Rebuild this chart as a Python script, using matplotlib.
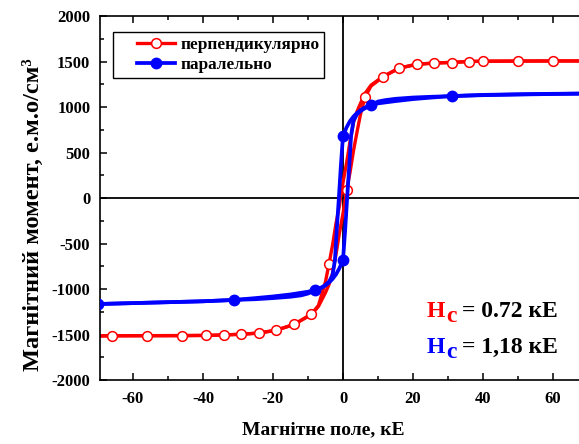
import matplotlib
matplotlib.use('Agg')
import matplotlib.pyplot as plt
from matplotlib.ticker import MultipleLocator
from matplotlib.legend_handler import HandlerLine2D

plt.rcParams['font.family'] = ['Liberation Serif', 'DejaVu Serif']
plt.rcParams['font.weight'] = 'bold'
plt.rcParams['axes.unicode_minus'] = False

# перпендикулярно: висхідна та низхідна гілки петлі
perp_up_h = [-70, -66, -56, -46, -39, -34, -29, -24, -19, -14, -9, -7, -5, -4, -3, -2, -1, 0, 0.72, 1, 2, 3,
             4, 5, 6.3, 8, 11.4, 16, 21, 26, 31, 36, 40, 50, 60, 70]
perp_up_m = [-1516, -1514, -1513, -1512, -1510, -1505, -1497, -1484, -1452, -1390, -1280, -1190, -1040, -950,
             -830, -620, -380, -170, 0, 80, 280, 520, 725, 920, 1110, 1230, 1330, 1428, 1470, 1483, 1490, 1500,
             1503, 1505, 1506, 1506]
perp_dn_h = [70, 60, 50, 40, 36, 31, 26, 21, 16, 11.4, 8, 6.3, 5, 4, 3, 2, 1, 0, -0.72, -1, -2, -3, -4, -5,
             -7, -9, -14, -19, -24, -29, -34, -39, -46, -56, -66, -70]
perp_dn_m = [1506, 1506, 1505, 1503, 1500, 1490, 1483, 1468, 1425, 1335, 1240, 1150, 1040, 950, 830, 620,
             380, 170, 0, -80, -280, -520, -725, -920, -1180, -1275, -1390, -1452, -1484, -1497, -1505, -1510,
             -1512, -1513, -1514, -1516]
perp_pt_h = [-66, -56, -46, -39, -34, -29, -24, -19, -14, -9, -4, 1, 6.3, 11.4, 16, 21, 26, 31, 36, 40, 50, 60]
perp_pt_m = [-1514, -1513, -1512, -1510, -1505, -1497, -1484, -1452, -1390, -1275, -725, 90, 1110, 1330,
             1428, 1470, 1483, 1488, 1500, 1503, 1505, 1506]

# паралельно
par_dn_h = [70, 60, 50, 40, 31, 25, 20, 15, 12, 10, 8, 6, 5, 4, 3, 2, 1, 0, -0.6, -1.18, -1.8, -2.3, -3,
            -4, -5, -6, -8, -10, -15, -20, -25, -31, -40, -50, -60, -70]
par_dn_m = [1148, 1143, 1137, 1130, 1120, 1112, 1104, 1090, 1075, 1060, 1022, 990, 965, 935, 895, 845, 775,
            681, 360, 0, -360, -681, -850, -920, -955, -980, -1011, -1030, -1060, -1082, -1100, -1120, -1135,
            -1145, -1155, -1165]
par_up_h = [-70, -60, -50, -40, -31, -25, -20, -15, -12, -10, -8, -6, -5, -4, -3, -2, -1, 0, 0.6, 1.18,
            1.8, 2.3, 3, 4, 5, 6, 8, 10, 15, 20, 25, 31, 40, 50, 60, 70]
par_up_m = [-1165, -1155, -1145, -1135, -1120, -1112, -1100, -1085, -1070, -1050, -1015, -985, -960, -930,
            -890, -840, -770, -681, -360, 0, 360, 681, 850, 920, 955, 980, 1022, 1040, 1065, 1087, 1103, 1120,
            1133, 1140, 1145, 1148]
par_pt_h = [-70, -31, -8, 0, 0, 8, 31, 70]
par_pt_m = [-1165, -1120, -1011, 681, -681, 1022, 1120, 1148]

fig = plt.figure(figsize=(5.79, 4.44), dpi=100)
ax = fig.add_axes([100 / 579, 1 - 380 / 444, 1 - 100 / 579, 364 / 444])

ax.axhline(0, color='black', lw=1.3, zorder=1)
ax.axvline(0, color='black', lw=1.3, zorder=1)

red = '#ff0000'
blue = '#0000ff'
ax.plot(perp_up_h, perp_up_m, color=red, lw=2.4, zorder=2)
ax.plot(perp_dn_h, perp_dn_m, color=red, lw=2.4, zorder=2)
ax.plot(perp_pt_h, perp_pt_m, 'o', color=red, mfc='white', mec=red, ms=7, mew=1.1, zorder=3)
ax.plot(par_up_h, par_up_m, color=blue, lw=2.7, zorder=4)
ax.plot(par_dn_h, par_dn_m, color=blue, lw=2.7, zorder=4)
ax.plot(par_pt_h, par_pt_m, 'o', color=blue, ms=7.5, zorder=5)

# легенда
h1, = ax.plot([], [], '-o', color=red, mfc='white', mec=red, ms=7, lw=2.4, mew=1.1)
h2, = ax.plot([], [], '-o', color=blue, ms=7.5, lw=2.7)
leg = ax.legend([h1, h2], ['перпендикулярно', 'паралельно'], loc='upper left',
                bbox_to_anchor=(113 / 579, 1 - 32 / 444), bbox_transform=fig.transFigure,
                borderaxespad=0, fancybox=False, framealpha=1, edgecolor='black',
                prop={'size': 12.4, 'weight': 'bold'}, handlelength=3.3, borderpad=0.3,
                labelspacing=0.2, handletextpad=0.3,
                handler_map={h1: HandlerLine2D(xpad=1.1), h2: HandlerLine2D(xpad=1.1)})
leg.get_frame().set_linewidth(1.0)

ax.set_xlim(-69.4, 67.4)
ax.set_ylim(-2000, 2000)
ax.xaxis.set_major_locator(MultipleLocator(20))
ax.xaxis.set_minor_locator(MultipleLocator(10))
ax.yaxis.set_major_locator(MultipleLocator(500))
ax.yaxis.set_minor_locator(MultipleLocator(250))
ax.tick_params(which='both', direction='in', top=True, right=False, width=1.1, labelsize=12)
ax.tick_params(which='major', length=5)
ax.tick_params(which='minor', length=3)
ax.tick_params(axis='x', pad=8)
ax.tick_params(axis='y', pad=7)
for lab in ax.get_xticklabels() + ax.get_yticklabels():
    lab.set_fontweight('bold')
for s in ax.spines.values():
    s.set_linewidth(1.2)
ax.spines['right'].set_visible(False)

ax.set_xlabel('Магнітне поле, кЕ', fontsize=14, fontweight='bold')
ax.xaxis.set_label_coords(223 / 479, -41 / 364)
ax.set_ylabel('Магнітний момент, е.м.о/см³', fontsize=17.6, fontweight='bold')
ax.yaxis.set_label_coords(-56 / 479, 165 / 364)

# коерцитивна сила
fs = 17
fig.text(427 / 579, 1 - 317 / 444, 'H', color=red, fontsize=fs, fontweight='bold', va='baseline')
fig.text(446 / 579, 1 - 322 / 444, 'c', color=red, fontsize=fs, fontweight='bold', va='baseline')
fig.text(558 / 579, 1 - 317 / 444, '= 0.72 кЕ', color='black', fontsize=fs, fontweight='bold',
         va='baseline', ha='right')
fig.text(427 / 579, 1 - 353 / 444, 'H', color=blue, fontsize=fs, fontweight='bold', va='baseline')
fig.text(446 / 579, 1 - 358 / 444, 'c', color=blue, fontsize=fs, fontweight='bold', va='baseline')
fig.text(558 / 579, 1 - 353 / 444, '= 1,18 кЕ', color='black', fontsize=fs, fontweight='bold',
         va='baseline', ha='right')

fig.savefig('out.png', dpi=100)
